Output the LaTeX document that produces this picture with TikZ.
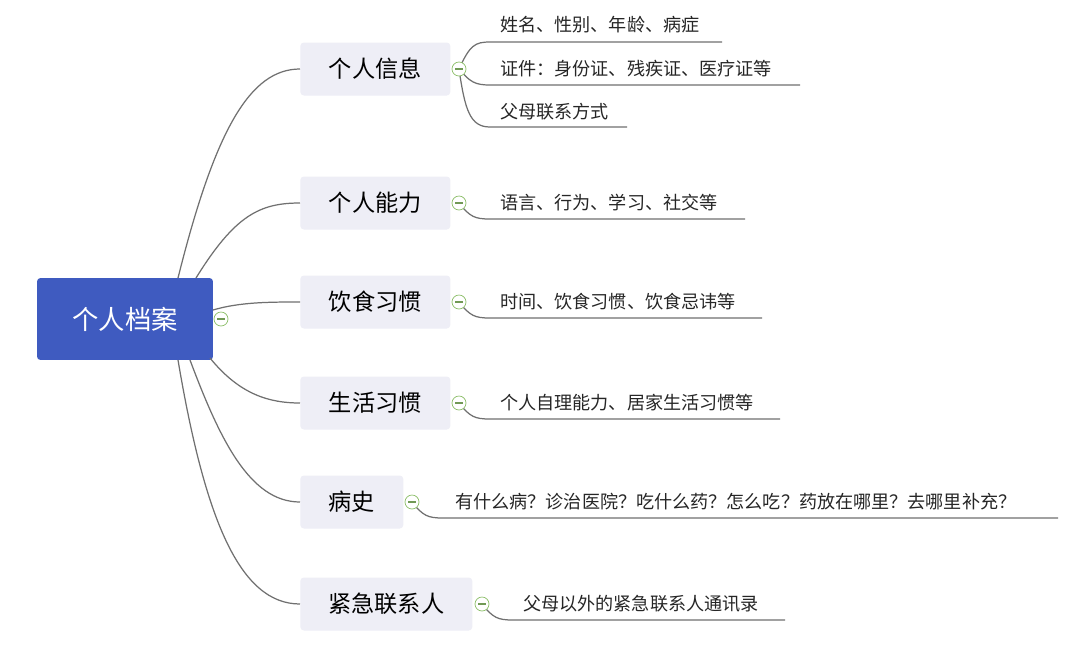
\documentclass[tikz,border=0pt]{standalone}
\usepackage{fontspec}
\setmainfont{Noto Sans CJK SC}
\usepackage{tikz}
\usetikzlibrary{calc}
\definecolor{rootblue}{HTML}{3F5BC0}
\definecolor{boxgray}{HTML}{EEEEF6}
\definecolor{linegray}{HTML}{707070}
\definecolor{knobgreen}{HTML}{8DBF6A}
\tikzset{
    rootbox/.style={fill=rootblue, rounded corners=2pt, minimum width=3.52cm, minimum height=1.64cm, text=white, font=\fontsize{15}{17}\selectfont},
    topicbox/.style={fill=boxgray, rounded corners=2pt, minimum height=1.06cm, font=\fontsize{13.2}{15}\selectfont, anchor=west},
    leaf/.style={anchor=west, inner sep=0pt, font=\fontsize{10.3}{12}\selectfont, text=black!85},
    conn/.style={draw=linegray, line width=0.7pt},
    knob/.style={draw=knobgreen, fill=white, circle, inner sep=0pt, minimum size=0.28cm, path picture={\draw[knobgreen!80!black, line width=0.6pt] ([xshift=-0.08cm]path picture bounding box.center) -- ([xshift=0.08cm]path picture bounding box.center);}}
}
\begin{document}
\begin{tikzpicture}[x=0.02cm, y=-0.02cm]
\useasboundingbox (0,0) rectangle (1080,650);
\fill[white] (0,0) rectangle (1080,650);

% root
\node[rootbox] (root) at (125,319) {个人档案};

% topics
\node[topicbox, minimum width=3.0cm] (info) at (300,69) {个人信息};
\node[topicbox, minimum width=3.0cm] (ability) at (300,203) {个人能力};
\node[topicbox, minimum width=3.0cm] (diet) at (300,302) {饮食习惯};
\node[topicbox, minimum width=3.0cm] (life) at (300,403) {生活习惯};
\node[topicbox, minimum width=2.06cm] (history) at (300,502) {病史};
\node[topicbox, minimum width=3.44cm] (contact) at (300,604) {紧急联系人};

% root connectors
\coordinate (r1) at (178,278);
\coordinate (r2) at (196,278);
\coordinate (r3) at (213,310);
\coordinate (r4) at (210,358);
\coordinate (r5) at (190,360);
\coordinate (r6) at (178,360);
\draw[conn] (r1) .. controls (215,130) and (250,69) .. (info.west);
\draw[conn] (r2) .. controls (235,215) and (260,203) .. (ability.west);
\draw[conn] (r3) .. controls (240,302) and (270,302) .. (diet.west);
\draw[conn] (r4) .. controls (240,395) and (270,403) .. (life.west);
\draw[conn] (r5) .. controls (220,440) and (250,502) .. (history.west);
\draw[conn] (r6) .. controls (205,520) and (240,604) .. (contact.west);
\node[knob] (rk) at (221,319) {};

% leaves
\node[leaf] (l1a) at (500,25) {姓名、性别、年龄、病症};
\node[leaf] (l1b) at (500,69) {证件：身份证、残疾证、医疗证等};
\node[leaf] (l1c) at (500,112) {父母联系方式};
\node[leaf] (l2) at (500,203) {语言、行为、学习、社交等};
\node[leaf] (l3) at (500,302) {时间、饮食习惯、饮食忌讳等};
\node[leaf] (l4) at (500,403) {个人自理能力、居家生活习惯等};
\node[leaf] (l5) at (455,502) {有什么病？诊治医院？吃什么药？怎么吃？药放在哪里？去哪里补充？};
\node[leaf] (l6) at (523,604) {父母以外的紧急联系人通讯录};

% leaf connectors
\coordinate (k1) at (459,69);
\draw[conn] (k1) .. controls (470,45) and (475,42) .. (490,42) -- (722,42);
\draw[conn] (k1) .. controls (470,82) and (475,85) .. (490,85) -- (800,85);
\draw[conn] (k1) .. controls (465,110) and (470,127) .. (490,127) -- (627,127);
\draw[conn] (459,203) .. controls (470,217) and (475,219) .. (490,219) -- (745,219);
\draw[conn] (459,302) .. controls (470,316) and (475,318) .. (490,318) -- (762,318);
\draw[conn] (459,403) .. controls (470,417) and (475,419) .. (490,419) -- (780,419);
\draw[conn] (412,502) .. controls (423,516) and (428,518) .. (443,518) -- (1058,518);
\draw[conn] (482,604) .. controls (493,618) and (498,620) .. (513,620) -- (785,620);
\node[knob] (k1n) at (k1) {};
\node[knob] (k2) at (459,203) {};
\node[knob] (k3) at (459,302) {};
\node[knob] (k4) at (459,403) {};
\node[knob] (k5) at (412,502) {};
\node[knob] (k6) at (482,604) {};
\end{tikzpicture}
\end{document}
